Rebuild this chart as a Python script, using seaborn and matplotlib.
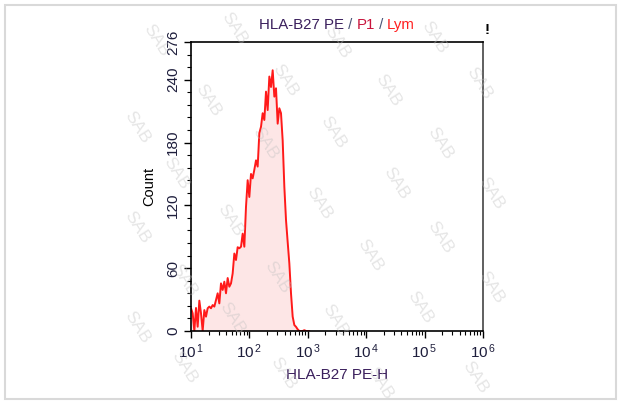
import numpy as np
import pandas as pd
import matplotlib
matplotlib.use("Agg")
import matplotlib.pyplot as plt
from matplotlib.patches import Rectangle
from matplotlib.ticker import FixedLocator, NullFormatter
import seaborn as sns

# ---------------- data ----------------
title_parts = ["HLA-B27 PE", " / ", "P1", " / ", "Lym"]
title_colors = ["#3a1f5c", "#4a5578", "#c8143c", "#4a5578", "#ff2020"]
x_label = "HLA-B27 PE-H"
y_label = "Count"
x_decades = [1, 2, 3, 4, 5, 6]
y_major = [0, 60, 120, 180, 240, 276]
y_minor_step = 12

# histogram counts per log channel (channel width ~0.0285 decade, starting at 10^1)
channel_start_log = 1.0
channel_width_log = 0.02854
counts = [
    21.7, 16.9, 0, 22, 4.1, 29, 16.9, 0, 20, 13.7,
    21.7, 23.3, 21.7, 24.8, 23.3, 29.6, 36, 26.4, 45.5, 39.2,
    47.1, 36, 50.6, 42.3, 45.5, 55, 74, 67.8, 80, 79,
    80.5, 93, 80.5, 118.7, 144, 128, 150, 145.8, 154, 163,
    157, 189, 195, 208, 201.5, 228.6, 211, 243, 233, 249,
    223.8, 231.8, 198, 212.7, 208, 182, 137.8, 106, 85, 64.6,
    36, 13.7, 5.7, 4, 1.6, 0, 0, 0, 0.8, 0, 0, 0,
]

channels = 10 ** (channel_start_log + channel_width_log * np.arange(len(counts)))
df = pd.DataFrame({"pe_h": channels, "count": counts})

# ---------------- figure ----------------
sns.set_theme(style="white")
plt.rcParams["font.family"] = ["Liberation Sans", "DejaVu Sans"]
plt.rcParams["mathtext.fontset"] = "custom"
plt.rcParams["mathtext.rm"] = "Liberation Sans"

W, H = 621, 403
fig = plt.figure(figsize=(W / 100, H / 100), dpi=100)
fig.patch.set_facecolor("white")

# outer light border
fig.patches.append(Rectangle((5 / W, 4 / H), 611 / W, 394 / H, transform=fig.transFigure,
                             fill=False, edgecolor="#d9d9d9", linewidth=1.5))

left, right, top, bottom = 191, 483, 42, 331
ax = fig.add_axes([left / W, (H - bottom) / H, (right - left) / W, (bottom - top) / H])
ax.set_facecolor("white")

ax.fill_between(df["pe_h"], df["count"], 0, color="#fde6e6", linewidth=0, zorder=1)
sns.lineplot(data=df, x="pe_h", y="count", ax=ax, color="#ff1a1a", linewidth=1.4,
             estimator=None, sort=False, zorder=2)

ax.set_xscale("log")
ax.set_xlim(10 ** x_decades[0], 10 ** x_decades[-1])
ax.set_ylim(0, y_major[-1])

ax.xaxis.set_major_locator(FixedLocator([10 ** d for d in x_decades]))
ax.set_xticklabels([r"$\mathdefault{10^{\,%d}}$" % d for d in x_decades])
minor_x = [m * 10 ** d for d in x_decades[:-1] for m in range(2, 10)]
ax.xaxis.set_minor_locator(FixedLocator(minor_x))
ax.xaxis.set_minor_formatter(NullFormatter())

ax.yaxis.set_major_locator(FixedLocator(y_major))
ax.set_yticklabels([str(v) for v in y_major], rotation=90, va="center")
ax.yaxis.set_minor_locator(FixedLocator(list(range(0, y_major[-1] + 1, y_minor_step))))

tick_color = "#1e1e3c"
ax.tick_params(axis="both", which="major", direction="out", length=5, width=1,
               color="black", labelsize=11, labelcolor=tick_color, pad=3,
               bottom=True, left=True)
ax.tick_params(axis="both", which="minor", direction="out", length=3, width=0.8,
               color="black", bottom=True, left=True)

for side, sp in ax.spines.items():
    sp.set_visible(True)
    sp.set_color("black")
    sp.set_linewidth(1.2)
ax.spines["right"].set_color("#444444")

ax.set_xlabel(x_label, fontsize=11, color="#3a1f5c", labelpad=5)
ax.set_ylabel(y_label, fontsize=10.5, color="black", labelpad=7)

# multi-coloured title
fig.canvas.draw()
renderer = fig.canvas.get_renderer()
pieces = []
for txt, col in zip(title_parts, title_colors):
    t = fig.text(0, (H - 25) / H, txt, color=col, fontsize=10.8, va="center", ha="left")
    pieces.append(t)
widths = [p.get_window_extent(renderer).width for p in pieces]
total = sum(widths)
cx = (left + right) / 2
xpos = cx - total / 2
for p, w in zip(pieces, widths):
    p.set_x(xpos / W)
    xpos += w

fig.text(487 / W, (H - 30) / H, "!", fontsize=11, fontweight="bold", color="black",
         ha="center", va="center")

# watermark
wm = [(234, 28), (337, 42), (434, 37), (156, 40), (208, 100), (285, 80), (388, 90),
      (479, 83), (137, 127), (265, 143), (333, 132), (440, 143), (176, 173), (396, 183),
      (319, 203), (491, 193), (230, 220), (137, 227), (440, 237), (370, 255), (277, 277),
      (184, 280), (491, 287), (420, 307), (137, 327), (335, 320), (232, 318), (184, 367),
      (283, 373), (380, 383), (475, 377)]
for (x, y) in wm:
    fig.text(x / W, (H - y) / H, "SAB", rotation=-58, color="#c0c0c0", alpha=0.4,
             fontsize=12.5, ha="center", va="center", zorder=10)

fig.savefig("out.png", dpi=100, facecolor="white")
